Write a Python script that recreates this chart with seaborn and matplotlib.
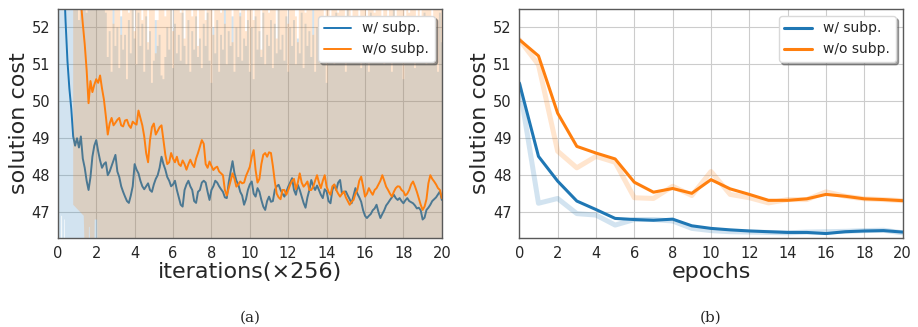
import numpy as np
import matplotlib
matplotlib.use("Agg")
import matplotlib.pyplot as plt
import seaborn as sns

# ---- data ----
BLUE = "#1f77b4"
ORANGE = "#ff7f0e"
series_names = ["w/ subp.", "w/o subp."]

# (a) running cost vs iterations(x256), one sample every 0.1
iter_sub = np.round(np.arange(0, 201) * 0.1, 1)            # 0.0 .. 20.0
iter_nosub = np.round(np.arange(8, 201) * 0.1, 1)          # 0.8 .. 20.0

cost_sub = [
    60.0, 57.5, 55.4, 53.6, 52.2, 51.1, 50.35, 49.8, 49.05, 48.8,
    49.0, 48.75, 49.05, 48.45, 48.2, 47.85, 47.6, 47.95, 48.5, 48.8,
    48.95, 48.65, 48.4, 48.2, 48.3, 48.35, 48.0, 48.1, 48.25, 48.4,
    48.55, 48.1, 47.95, 47.7, 47.55, 47.42, 47.3, 47.25, 47.45, 47.7,
    48.3, 48.15, 48.05, 47.85, 47.7, 47.62, 47.7, 47.78, 47.6, 47.55,
    47.75, 47.9, 48.0, 48.2, 48.5, 48.3, 48.15, 47.95, 47.85, 47.7,
    47.75, 47.85, 47.6, 47.4, 47.2, 47.15, 47.6, 47.75, 47.85, 47.7,
    47.6, 47.3, 47.25, 47.55, 47.6, 47.8, 47.85, 47.8, 47.55, 47.33,
    47.6, 47.7, 47.85, 47.8, 47.7, 47.62, 47.55, 47.4, 47.38, 47.8,
    48.1, 48.38, 48.05, 47.85, 47.75, 47.55, 47.45, 47.2, 47.35, 47.6,
    47.75, 47.83, 47.5, 47.42, 47.65, 47.55, 47.33, 47.15, 47.06, 47.3,
    47.42, 47.28, 47.3, 47.6, 47.7, 47.74, 47.6, 47.5, 47.42, 47.55,
    47.69, 47.8, 47.92, 47.6, 47.47, 47.74, 47.6, 47.42, 47.25, 47.12,
    47.4, 47.6, 47.87, 47.7, 47.6, 47.72, 47.6, 47.47, 47.38, 47.62,
    47.56, 47.3, 47.24, 47.6, 47.74, 47.6, 47.8, 47.87, 47.5, 47.55,
    47.56, 47.45, 47.35, 47.24, 47.45, 47.65, 47.5, 47.4, 47.28, 47.05,
    46.9, 46.84, 46.9, 46.95, 47.05, 47.1, 47.2, 47.0, 46.84, 46.95,
    47.05, 47.18, 47.25, 47.33, 47.4, 47.47, 47.38, 47.33, 47.38, 47.3,
    47.24, 47.32, 47.38, 47.3, 47.27, 47.24, 47.18, 47.1, 47.12, 47.05,
    46.8, 46.85, 47.06, 47.12, 47.2, 47.3, 47.35, 47.4, 47.48, 47.56,
    47.33,
]
cost_nosub = [
    58.0, 56.5, 55.0, 53.8, 52.7, 52.1, 51.55, 50.85, 49.95, 50.55,
    50.25, 50.45, 50.6, 50.5, 50.7, 50.35, 50.05, 49.6, 49.1, 49.4,
    49.55, 49.35, 49.42, 49.5, 49.55, 49.35, 49.32, 49.48, 49.5, 49.35,
    49.28, 49.45, 49.4, 49.37, 49.75, 49.55, 49.35, 49.05, 48.6, 48.35,
    48.95, 49.3, 49.4, 49.1, 49.2, 49.3, 49.35, 48.95, 48.55, 48.3,
    48.35, 48.6, 48.45, 48.35, 48.5, 48.3, 48.25, 48.4, 48.3, 48.15,
    48.3, 48.42, 48.3, 48.22, 48.45, 48.6, 48.77, 48.95, 48.85, 48.3,
    48.2, 48.37, 48.25, 48.14, 48.2, 48.23, 48.1, 48.05, 48.0, 47.6,
    47.45, 47.65, 47.85, 48.05, 47.9, 47.69, 47.75, 47.83, 47.78, 47.8,
    47.98, 48.1, 48.23, 48.5, 48.68, 48.14, 47.8, 47.9, 48.3, 48.55,
    48.6, 48.5, 48.62, 48.6, 48.25, 47.83, 47.5, 47.4, 47.35, 47.6,
    47.6, 47.47, 47.6, 47.74, 47.85, 47.9, 47.62, 47.8, 48.05, 47.8,
    47.69, 47.75, 47.83, 47.6, 47.6, 47.69, 47.85, 48.0, 47.8, 47.65,
    47.85, 48.0, 47.69, 47.55, 47.47, 47.7, 47.75, 47.6, 47.5, 47.42,
    47.5, 47.56, 47.4, 47.3, 47.2, 47.28, 47.33, 47.5, 47.6, 47.85,
    47.96, 47.7, 47.42, 47.5, 47.65, 47.55, 47.47, 47.6, 47.65, 47.75,
    47.85, 48.0, 47.85, 47.69, 47.6, 47.5, 47.42, 47.55, 47.65, 47.7,
    47.69, 47.6, 47.56, 47.45, 47.5, 47.6, 47.75, 47.83, 47.7, 47.55,
    47.38, 47.2, 47.06, 47.15, 47.35, 47.78, 48.0, 47.9, 47.83, 47.75,
    47.65, 47.6, 47.38,
]

# upper edge of the spread bands (same sampling as the curves)
upper_sub = [
    54.0, 54.0, 54.0, 54.0, 54.0, 54.0, 54.0, 54.0, 54.0, 54.0,
    54.0, 52.2, 54.0, 54.0, 54.0, 52.4, 54.0, 54.0, 54.0, 54.0,
    54.0, 54.0, 54.0, 54.0, 54.0,
    52.4, 51.2, 51.9, 50.8, 52.6, 51.5, 52.0, 50.9, 52.3, 51.4,
    51.8, 50.6, 52.2, 51.3, 52.5, 51.7, 51.0, 52.4, 51.5, 52.1,
    50.8, 52.3, 51.4, 51.9, 50.5, 51.1, 52.2, 51.5, 51.8, 50.7,
    50.6, 51.2, 52.0, 51.4, 52.5, 50.9, 52.1, 51.3, 51.8, 51.1,
    52.4, 51.5, 51.0, 52.2, 50.8, 51.9, 51.4, 52.3, 51.2, 51.7,
    50.9, 52.1, 51.5, 52.4, 51.1, 50.5, 52.0, 51.3, 52.2, 50.8,
    51.8, 51.4, 52.5, 51.0, 51.9, 51.5, 52.3, 50.8, 52.0, 51.2,
    52.4, 51.1, 51.7, 51.5, 52.2, 50.8, 52.0, 50.6, 52.3, 51.4,
    51.9, 51.2, 52.4, 51.0, 51.8, 51.5, 52.2, 50.9, 52.1, 51.3,
    52.5, 51.4, 51.8, 51.1, 52.3, 50.8, 52.0, 51.5, 52.2, 51.0,
    51.7, 51.3, 52.4, 50.9, 52.1, 51.5, 51.9, 51.2, 52.5, 50.8,
    52.0, 51.4, 52.3, 51.1, 51.8, 50.5, 52.2, 51.5, 51.9, 51.0,
    52.4, 51.3, 51.7, 51.2, 52.1, 50.8, 52.5, 51.4, 52.0, 51.1,
    52.2, 51.5, 51.8, 50.9, 52.3, 51.2, 52.0, 50.8, 52.4, 51.4,
    51.9, 51.1, 52.2, 51.5, 51.7, 51.0, 52.3, 51.3, 52.1, 50.8,
    52.5, 51.4, 51.9, 51.2, 52.0, 50.6, 52.2, 51.5, 51.8, 51.1,
    52.3, 50.9, 52.1, 51.4, 51.7, 51.2, 52.4, 51.0, 51.9, 51.5,
    52.2, 51.3, 52.0, 50.8, 52.4, 51.6,
]
upper_nosub = [
    54.0, 54.0, 54.0, 54.0, 54.0, 54.0, 54.0, 54.0, 54.0, 54.0,
    54.0, 54.0, 54.0, 54.0, 54.0, 54.0, 54.0, 54.0, 53.5, 54.0,
    53.2, 52.1, 53.6, 52.9, 53.8, 51.8, 53.4, 52.7, 53.9, 52.4,
    53.5, 52.8, 51.9, 53.7, 52.6, 53.3, 52.2, 53.8, 52.9, 51.6,
    53.4, 52.7, 53.9, 51.3, 52.2, 53.5, 52.8, 53.6, 52.3, 53.1,
    52.6, 53.7, 51.9, 53.3, 52.9, 53.8, 52.4, 53.2, 51.7, 53.6,
    52.8, 53.4, 52.3, 53.9, 52.6, 51.5, 53.5, 52.9, 53.3, 52.2,
    53.7, 52.5, 53.1, 51.8, 53.6, 52.8, 53.4, 52.4, 53.9, 52.1,
    53.3, 52.7, 53.8, 51.6, 53.2, 52.9, 53.5, 52.3, 53.7, 52.6,
    51.9, 53.4, 52.8, 53.6, 52.2, 53.3, 52.7, 53.9, 51.4, 53.1,
    52.6, 53.7, 52.4, 53.2, 52.9, 53.8, 51.7, 53.5, 52.5, 53.3,
    52.8, 53.6, 52.1, 53.4, 52.7, 53.9, 52.3, 51.6, 53.5, 52.9,
    53.2, 52.4, 53.8, 52.7, 53.3, 51.8, 53.6, 52.6, 53.1, 52.8,
    53.7, 52.2, 53.4, 52.9, 51.5, 53.5, 52.6, 53.8, 52.4, 53.2,
    52.7, 53.6, 52.3, 53.9, 52.8, 51.9, 53.3, 52.5, 53.7, 52.1,
    53.4, 52.9, 53.6, 51.7, 53.2, 52.6, 53.8, 52.4, 53.5, 52.8,
    53.1, 52.3, 53.7, 52.9, 51.6, 53.4, 52.7, 53.9, 52.2, 53.3,
    52.6, 53.5, 52.8, 51.9, 53.6, 52.4, 53.2, 52.9, 53.8, 52.3,
    53.4, 51.8, 53.1, 52.7, 53.7, 52.5, 53.3, 52.2, 53.6, 52.9,
    53.2, 52.6, 53.5,
]
# lower edge of the bands (mostly below the visible range)
lower_sub_x = [0.0, 0.17, 0.18, 0.22, 0.23, 0.32, 0.33, 0.36, 0.37, 20.0]
lower_sub = [45.5, 45.5, 46.9, 46.9, 45.5, 45.5, 46.8, 46.8, 45.5, 45.5]
lower_nosub_x = [0.8, 1.35, 1.42, 1.6, 1.62, 1.66, 1.68, 1.9, 1.92, 2.05, 2.07, 20.0]
lower_nosub = [47.2, 46.9, 45.5, 45.5, 46.6, 46.6, 45.5, 45.5, 46.8, 46.8, 45.5, 45.5]

# (b) cost per epoch: smoothed curve and raw values
epochs = list(range(21))
epoch_sub = [50.50, 48.51, 47.84, 47.30, 47.07, 46.83, 46.80, 46.78, 46.81, 46.63,
             46.56, 46.52, 46.49, 46.47, 46.45, 46.45, 46.42, 46.47, 46.49, 46.50, 46.46]
epoch_sub_raw = [50.45, 47.24, 47.37, 46.96, 46.92, 46.65, 46.80, 46.80, 46.76, 46.56,
                 46.50, 46.47, 46.46, 46.45, 46.44, 46.46, 46.47, 46.48, 46.50, 46.51, 46.44]
epoch_nosub = [51.67, 51.23, 49.68, 48.78, 48.60, 48.44, 47.81, 47.54, 47.64, 47.51,
               47.88, 47.63, 47.48, 47.32, 47.32, 47.36, 47.48, 47.43, 47.36, 47.34, 47.31]
epoch_nosub_raw = [51.67, 50.99, 48.65, 48.20, 48.51, 48.35, 47.39, 47.37, 47.70, 47.45,
                   48.10, 47.48, 47.39, 47.25, 47.34, 47.34, 47.55, 47.43, 47.36, 47.34, 47.31]

# ---- style ----
sns.set_style("whitegrid", {"axes.edgecolor": "0.35", "grid.color": "0.8"})
plt.rcParams["font.family"] = ["DejaVu Sans"]

fig = plt.figure(figsize=(9.18, 3.27), dpi=100)
ax1 = fig.add_axes([0.063, 0.2722, 0.4183, 0.7003])
ax2 = fig.add_axes([0.5657, 0.2722, 0.4176, 0.7003])


def band(ax, x_up, up, x_low, low, color, z):
    # upper edge drawn as steps (one strip per sample), lower edge as given
    x_up = np.asarray(x_up, float)
    half = 0.05
    xs_up = np.column_stack([x_up - half, x_up + half]).ravel()
    ys_up = np.repeat(np.asarray(up, float), 2)
    xs_up[0] = x_up[0]
    xs = np.concatenate([xs_up, np.asarray(x_low, float)[::-1]])
    ys = np.concatenate([ys_up, np.asarray(low, float)[::-1]])
    ax.fill(xs, ys, color=color, alpha=0.2, lw=0, zorder=z)


band(ax1, iter_sub, upper_sub, lower_sub_x, lower_sub, BLUE, 1.1)
sns.lineplot(x=iter_sub, y=cost_sub, ax=ax1, color=BLUE, lw=1.4,
             label=series_names[0], zorder=1.2)
band(ax1, iter_nosub, upper_nosub, lower_nosub_x, lower_nosub, ORANGE, 1.3)
sns.lineplot(x=iter_nosub, y=cost_nosub, ax=ax1, color=ORANGE, lw=1.4,
             label=series_names[1], zorder=1.4)
ax1.set_xlabel("iterations(×256)", fontsize=16, labelpad=1)

sns.lineplot(x=epochs, y=epoch_sub_raw, ax=ax2, color=BLUE, lw=3.6, alpha=0.2)
sns.lineplot(x=epochs, y=epoch_sub, ax=ax2, color=BLUE, lw=2.2, label=series_names[0])
sns.lineplot(x=epochs, y=epoch_nosub_raw, ax=ax2, color=ORANGE, lw=3.6, alpha=0.2)
sns.lineplot(x=epochs, y=epoch_nosub, ax=ax2, color=ORANGE, lw=2.2, label=series_names[1])
ax2.set_xlabel("epochs", fontsize=16, labelpad=1)

for ax in (ax1, ax2):
    ax.set_xlim(0, 20)
    ax.set_ylim(46.3, 52.5)
    ax.set_xticks(range(0, 21, 2))
    ax.set_yticks(range(47, 53))
    ax.tick_params(labelsize=10.5, pad=2)
    ax.set_ylabel("solution cost", fontsize=16, labelpad=2)
    for sp in ax.spines.values():
        sp.set_visible(True)
        sp.set_linewidth(1.0)
        sp.set_zorder(5)
    leg = ax.legend(loc="upper right", fontsize=10, shadow=True, framealpha=1,
                    borderaxespad=0.5)
    leg.get_frame().set_edgecolor("0.85")
    leg.set_zorder(10)

fig.text(0.2727, 0.0275, "(a)", ha="center", va="center", fontsize=11, family="DejaVu Serif")
fig.text(0.7745, 0.0275, "(b)", ha="center", va="center", fontsize=11, family="DejaVu Serif")

fig.savefig("out.png", dpi=100)
